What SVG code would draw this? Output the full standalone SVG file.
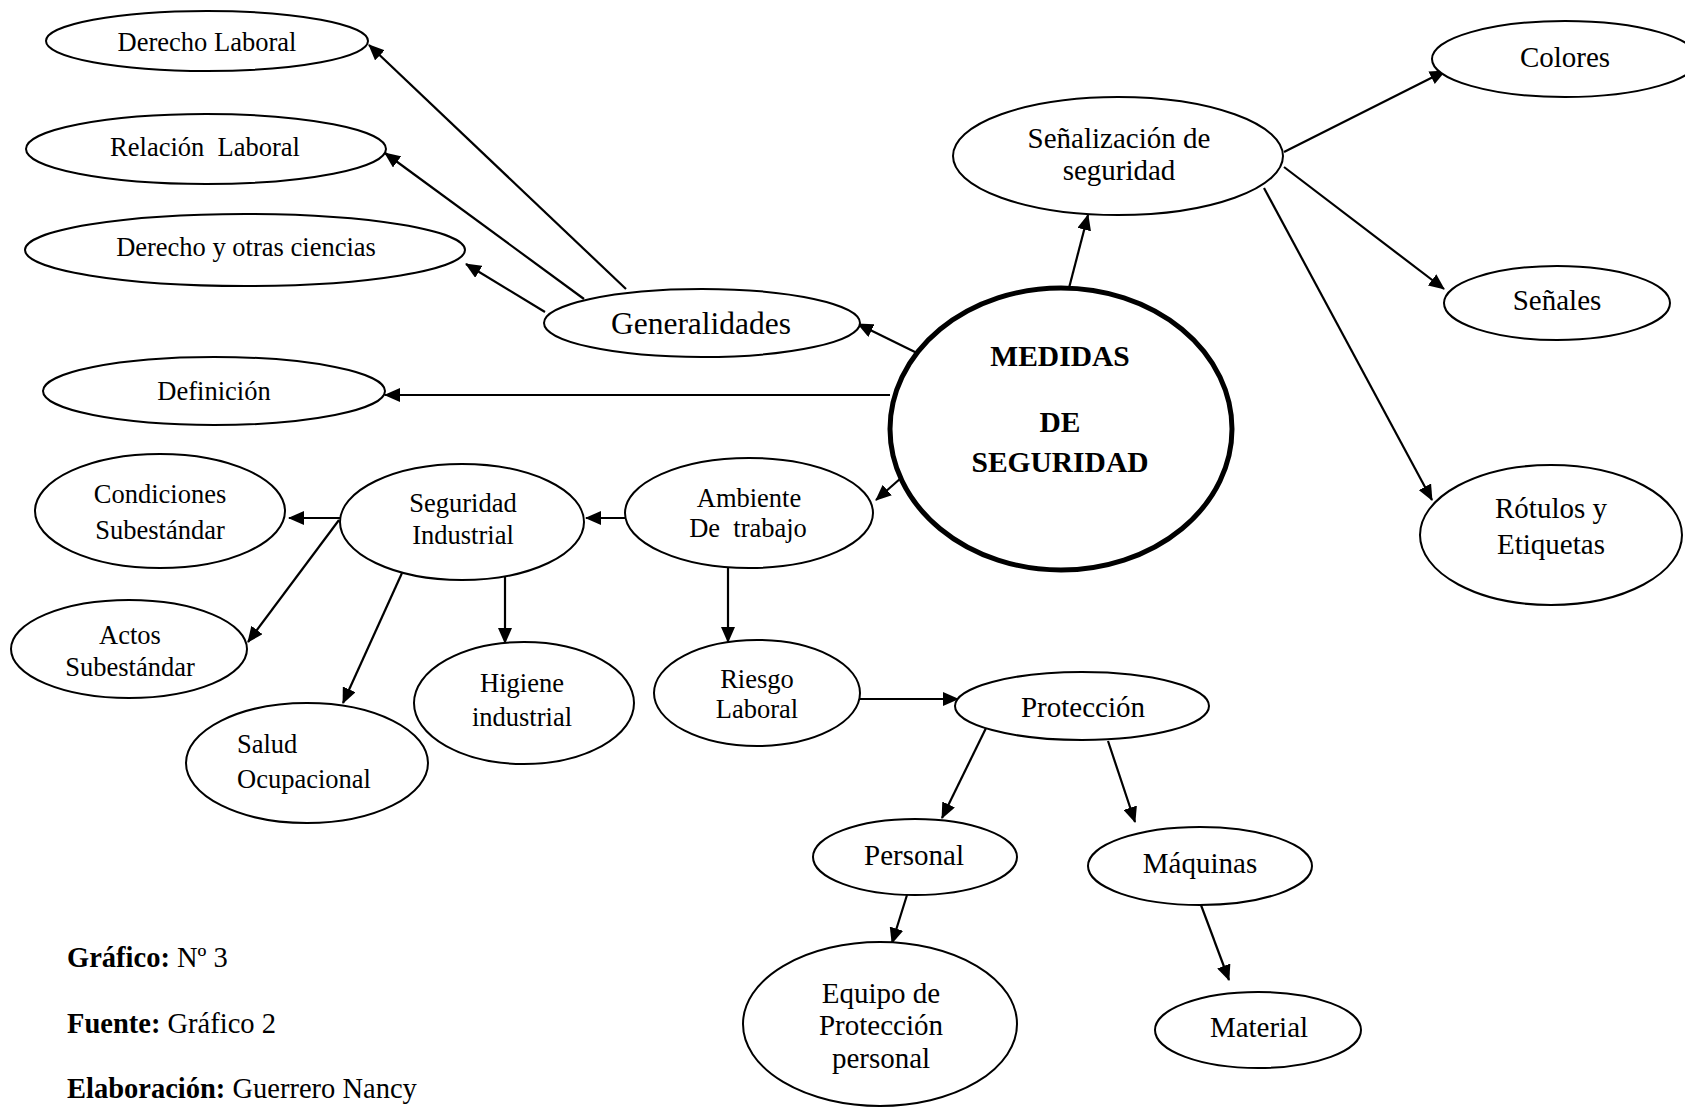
<svg xmlns="http://www.w3.org/2000/svg" width="1685" height="1107" viewBox="0 0 1685 1107">
<style>
  .bg { fill: #ffffff; }
  .node ellipse { fill: #ffffff; stroke: #000000; stroke-width: 2; }
  .node.main ellipse { stroke-width: 5; }
  text { font-family: "Liberation Serif", "Times New Roman", serif; fill: #000000; text-anchor: middle; }
  .s { font-size: 26.5px; }
  .m { font-size: 29px; }
  .l { font-size: 31.5px; }
  .b { font-size: 29.5px; font-weight: bold; }
  .foot { font-size: 28.5px; text-anchor: start; }
  .foot .k { font-weight: bold; }
  .edges line { stroke: #000000; stroke-width: 2.2; marker-end: url(#arrow); }
</style>
<defs>
  <marker id="arrow" viewBox="0 0 16 14" refX="15" refY="7" markerWidth="16" markerHeight="14" markerUnits="userSpaceOnUse" orient="auto">
    <path d="M0,0 L16,7 L0,14 Z" fill="#000000"/>
  </marker>
</defs>
<rect class="bg" x="0" y="0" width="1685" height="1107"/>

<g class="edges" id="connectors">
  <line x1="626" y1="289" x2="369" y2="45"/>
  <line x1="584" y1="299" x2="385" y2="153"/>
  <line x1="545" y1="312" x2="466" y2="264"/>
  <line x1="919" y1="354" x2="858" y2="324"/>
  <line x1="890" y1="395" x2="385" y2="395"/>
  <line x1="1069" y1="288" x2="1088" y2="215"/>
  <line x1="1284" y1="152" x2="1445" y2="71"/>
  <line x1="1284" y1="167" x2="1444" y2="289"/>
  <line x1="1264" y1="188" x2="1432" y2="500"/>
  <line x1="901" y1="478" x2="876" y2="500"/>
  <line x1="626" y1="518" x2="586" y2="518"/>
  <line x1="342" y1="518" x2="289" y2="518"/>
  <line x1="339" y1="520" x2="248" y2="642"/>
  <line x1="402" y1="573" x2="343" y2="703"/>
  <line x1="505" y1="571" x2="505" y2="643"/>
  <line x1="728" y1="568" x2="728" y2="642"/>
  <line x1="859" y1="699" x2="958" y2="699"/>
  <line x1="988" y1="724" x2="942" y2="818"/>
  <line x1="1108" y1="741" x2="1135" y2="822"/>
  <line x1="907" y1="895" x2="892" y2="943"/>
  <line x1="1201" y1="905" x2="1229" y2="980"/>
</g>

<g class="node" id="n-derecho-laboral">
  <ellipse cx="207" cy="41" rx="161" ry="30"/>
  <text class="s" x="207" y="51">Derecho Laboral</text>
</g>
<g class="node" id="n-relacion-laboral">
  <ellipse cx="206" cy="149" rx="180" ry="35"/>
  <text class="s" x="205" y="156" xml:space="preserve">Relación  Laboral</text>
</g>
<g class="node" id="n-derecho-ciencias">
  <ellipse cx="245" cy="250" rx="220" ry="36"/>
  <text class="s" x="246" y="256">Derecho y otras ciencias</text>
</g>
<g class="node" id="n-generalidades">
  <ellipse cx="702" cy="323" rx="158" ry="34"/>
  <text class="l" x="701" y="334">Generalidades</text>
</g>
<g class="node" id="n-definicion">
  <ellipse cx="214" cy="391" rx="171" ry="34"/>
  <text class="s" x="214" y="400">Definición</text>
</g>
<g class="node main" id="n-medidas">
  <ellipse cx="1061" cy="429" rx="171" ry="141"/>
  <text class="b" x="1060" y="366">MEDIDAS</text>
  <text class="b" x="1060" y="432">DE</text>
  <text class="b" x="1060" y="472">SEGURIDAD</text>
</g>
<g class="node" id="n-senalizacion">
  <ellipse cx="1118" cy="156" rx="165" ry="59"/>
  <text class="m" x="1119" y="148">Señalización de</text>
  <text class="m" x="1119" y="180">seguridad</text>
</g>
<g class="node" id="n-colores">
  <ellipse cx="1565" cy="59" rx="133" ry="38"/>
  <text class="m" x="1565" y="67">Colores</text>
</g>
<g class="node" id="n-senales">
  <ellipse cx="1557" cy="303" rx="113" ry="37"/>
  <text class="m" x="1557" y="310">Señales</text>
</g>
<g class="node" id="n-rotulos">
  <ellipse cx="1551" cy="535" rx="131" ry="70"/>
  <text class="m" x="1551" y="518">Rótulos y</text>
  <text class="m" x="1551" y="554">Etiquetas</text>
</g>
<g class="node" id="n-condiciones">
  <ellipse cx="160" cy="511" rx="125" ry="57"/>
  <text class="s" x="160" y="503">Condiciones</text>
  <text class="s" x="160" y="539">Subestándar</text>
</g>
<g class="node" id="n-seguridad-industrial">
  <ellipse cx="462" cy="522" rx="122" ry="58"/>
  <text class="s" x="463" y="512">Seguridad</text>
  <text class="s" x="463" y="544">Industrial</text>
</g>
<g class="node" id="n-ambiente">
  <ellipse cx="749" cy="513" rx="124" ry="55"/>
  <text class="s" x="749" y="507">Ambiente</text>
  <text class="s" x="748" y="537" xml:space="preserve">De  trabajo</text>
</g>
<g class="node" id="n-actos">
  <ellipse cx="129" cy="649" rx="118" ry="49"/>
  <text class="s" x="130" y="644">Actos</text>
  <text class="s" x="130" y="676">Subestándar</text>
</g>
<g class="node" id="n-higiene">
  <ellipse cx="524" cy="703" rx="110" ry="61"/>
  <text class="s" x="522" y="692">Higiene</text>
  <text class="s" x="522" y="726">industrial</text>
</g>
<g class="node" id="n-riesgo">
  <ellipse cx="757" cy="693" rx="103" ry="53"/>
  <text class="s" x="757" y="688">Riesgo</text>
  <text class="s" x="757" y="718">Laboral</text>
</g>
<g class="node" id="n-salud">
  <ellipse cx="307" cy="763" rx="121" ry="60"/>
  <text class="s" x="237" y="753" style="text-anchor:start">Salud</text>
  <text class="s" x="237" y="788" style="text-anchor:start">Ocupacional</text>
</g>
<g class="node" id="n-proteccion">
  <ellipse cx="1082" cy="706" rx="127" ry="34"/>
  <text class="m" x="1083" y="717">Protección</text>
</g>
<g class="node" id="n-personal">
  <ellipse cx="915" cy="857" rx="102" ry="38"/>
  <text class="m" x="914" y="865">Personal</text>
</g>
<g class="node" id="n-maquinas">
  <ellipse cx="1200" cy="866" rx="112" ry="39"/>
  <text class="m" x="1200" y="873">Máquinas</text>
</g>
<g class="node" id="n-equipo">
  <ellipse cx="880" cy="1024" rx="137" ry="82"/>
  <text class="m" x="881" y="1003">Equipo de</text>
  <text class="m" x="881" y="1035">Protección</text>
  <text class="m" x="881" y="1068">personal</text>
</g>
<g class="node" id="n-material">
  <ellipse cx="1258" cy="1030" rx="103" ry="38"/>
  <text class="m" x="1259" y="1037">Material</text>
</g>

<g id="footer">
  <text class="foot" x="67" y="967"><tspan class="k">Gráfico:</tspan> Nº 3</text>
  <text class="foot" x="67" y="1033"><tspan class="k">Fuente:</tspan> Gráfico 2</text>
  <text class="foot" x="67" y="1098"><tspan class="k">Elaboración:</tspan> Guerrero Nancy</text>
</g>
</svg>
